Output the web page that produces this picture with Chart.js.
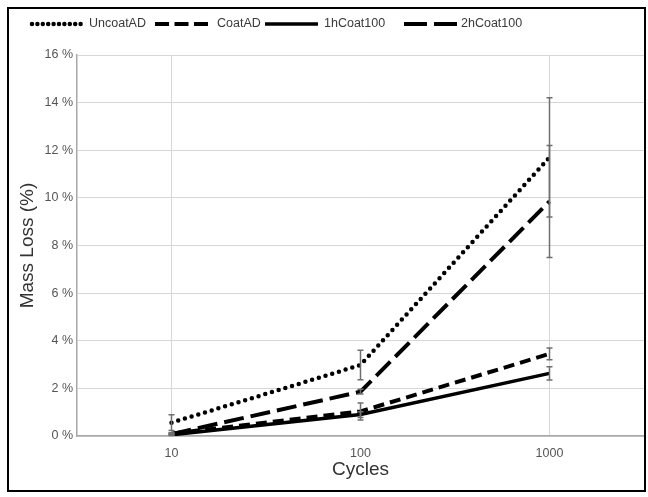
<!DOCTYPE html>
<html>
<head>
<meta charset="utf-8">
<script src="https://cdn.jsdelivr.net/npm/chart.js@4.4.1/dist/chart.umd.min.js"></script>
<style>
  html, body { margin: 0; padding: 0; background: #fff; }
  #wrap { position: relative; width: 648px; height: 497px; }
</style>
</head>
<body>
<div id="wrap"><canvas id="massLoss"></canvas></div>
<script>
const cycles = ['10', '100', '1000'];
const yTicks = [0, 2, 4, 6, 8, 10, 12, 14, 16];

const uncoatAD = [0.56, 2.98, 11.7];
const uncoatADErr = [0.33, 0.62, 2.5];
const coatAD = [0.1, 1.03, 3.45];
const coatADErr = [0.04, 0.36, 0.25];
const h1Coat100 = [0.05, 0.9, 2.63];
const h1Coat100Err = [0.03, 0.12, 0.28];
const h2Coat100 = [0.08, 1.86, 9.85];
const h2Coat100Err = [0.04, 0.1, 2.35];

const FONT = '"Liberation Sans", Arial, sans-serif';

// error bars drawn on top of the lines
const errorBars = {
  id: 'errorBars',
  afterDatasetsDraw(chart) {
    const { ctx, scales: { x, y } } = chart;
    ctx.save();
    ctx.strokeStyle = '#6f6f6f';
    ctx.lineWidth = 1.5;
    ctx.setLineDash([]);
    chart.data.datasets.forEach(ds => {
      ds.data.forEach((v, i) => {
        const e = ds.errors[i];
        const px = x.getPixelForValue(i);
        const top = y.getPixelForValue(v + e);
        const bot = y.getPixelForValue(Math.max(v - e, 0));
        ctx.beginPath();
        ctx.moveTo(px, top); ctx.lineTo(px, bot);
        ctx.moveTo(px - 3, top); ctx.lineTo(px + 3, top);
        ctx.moveTo(px - 3, bot); ctx.lineTo(px + 3, bot);
        ctx.stroke();
      });
    });
    ctx.restore();
  }
};

// legend on one line + outer frame
const legendAndFrame = {
  id: 'legendAndFrame',
  afterDraw(chart) {
    const { ctx } = chart;
    ctx.save();
    ctx.strokeStyle = '#000';
    ctx.lineWidth = 2;
    ctx.setLineDash([]);
    ctx.strokeRect(8, 8, 637, 483);

    const lineStart = [32, 155, 265, 404];
    const textStart = [89, 217, 324, 461];
    const yy = 24;
    ctx.font = '12.5px ' + FONT;
    ctx.textBaseline = 'middle';
    ctx.fillStyle = '#3a3a3a';
    chart.data.datasets.forEach((ds, i) => {
      const x0 = lineStart[i];
      ctx.beginPath();
      ctx.strokeStyle = '#000';
      ctx.lineWidth = ds.borderWidth;
      ctx.lineCap = ds.borderCapStyle || 'butt';
      ctx.setLineDash(ds.legendDash || []);
      ctx.moveTo(x0, yy);
      ctx.lineTo(x0 + 53, yy);
      ctx.stroke();
      ctx.setLineDash([]);
      ctx.fillText(ds.label, textStart[i], yy);
    });
    ctx.restore();
  }
};

new Chart(document.getElementById('massLoss'), {
  type: 'line',
  data: {
    labels: cycles,
    datasets: [
      {
        label: 'UncoatAD',
        data: uncoatAD,
        errors: uncoatADErr,
        borderColor: '#000',
        borderWidth: 4.5,
        borderDash: [0, 7],
        legendDash: [0, 5.4],
        borderCapStyle: 'round'
      },
      {
        label: 'CoatAD',
        data: coatAD,
        errors: coatADErr,
        borderColor: '#000',
        borderWidth: 4,
        borderDash: [11, 6],
        legendDash: [14, 5.5]
      },
      {
        label: '1hCoat100',
        data: h1Coat100,
        errors: h1Coat100Err,
        borderColor: '#000',
        borderWidth: 3.5
      },
      {
        label: '2hCoat100',
        data: h2Coat100,
        errors: h2Coat100Err,
        borderColor: '#000',
        borderWidth: 4,
        borderDash: [20, 7],
        legendDash: [23, 7]
      }
    ]
  },
  options: {
    responsive: true,
    maintainAspectRatio: false,
    animation: false,
    layout: { padding: { left: 8, top: 55, right: 4, bottom: 0 } },
    elements: { point: { radius: 0 }, line: { tension: 0 } },
    plugins: {
      legend: { display: false },
      tooltip: { enabled: false }
    },
    scales: {
      x: {
        offset: true,
        grid: {
          offset: false,
          drawTicks: false,
          color: ctx => (ctx.index === 1 ? 'rgba(0,0,0,0)' : '#d6d6d6')
        },
        border: { color: '#a8a8a8', width: 1.5 },
        ticks: { padding: 10, color: '#555', font: { family: FONT, size: 12.5 } },
        title: {
          display: true,
          text: 'Cycles',
          color: '#333',
          font: { family: FONT, size: 19 },
          padding: { top: 0, bottom: 16 }
        },
        afterFit: scale => { scale.height = 61; }
      },
      y: {
        min: 0,
        max: 16,
        afterBuildTicks: scale => { scale.ticks = yTicks.map(v => ({ value: v })); },
        grid: { drawTicks: false, color: '#d6d6d6' },
        border: { color: '#a8a8a8', width: 1.5 },
        ticks: {
          padding: 4,
          color: '#555',
          font: { family: FONT, size: 12.5 },
          callback: v => v + ' %'
        },
        title: {
          display: true,
          text: 'Mass Loss (%)',
          color: '#333',
          font: { family: FONT, size: 19 },
          padding: { top: 8, bottom: 0 }
        },
        afterFit: scale => { scale.width = 69; }
      }
    }
  },
  plugins: [errorBars, legendAndFrame]
});
</script>
</body>
</html>
